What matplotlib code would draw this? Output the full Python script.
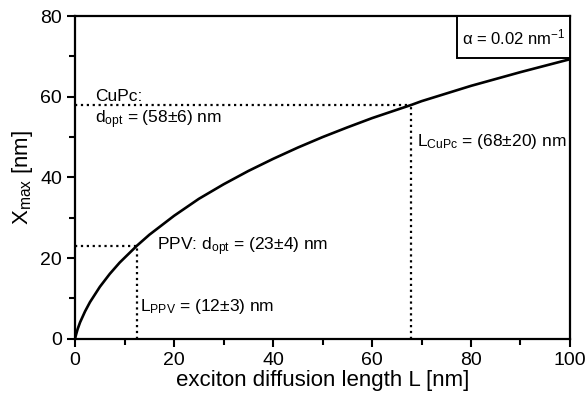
import matplotlib.pyplot as plt
from matplotlib.patches import Rectangle
from matplotlib.ticker import MultipleLocator

plt.rcParams['font.family'] = ['Liberation Sans', 'DejaVu Sans']
plt.rcParams['mathtext.fontset'] = 'custom'
plt.rcParams['mathtext.rm'] = 'Liberation Sans'
plt.rcParams['mathtext.it'] = 'Liberation Sans'

# curve
L = [0, 0.05, 0.2, 0.5, 1, 2, 3, 5, 7, 9, 10, 12.5, 15, 20, 25, 30, 35,
     40, 45, 50, 55, 60, 68, 70, 80, 90, 100]
x_max = [0, 0.4, 1.1, 2.4, 4.1, 6.8, 9.1, 12.9, 16.1, 18.9, 20.1, 23.1, 25.8,
         30.5, 34.7, 38.3, 41.6, 44.6, 47.4, 50.0, 52.4, 54.7, 58.0, 58.9,
         62.7, 66.1, 69.3]

# optimum points
ppv = (12.5, 23)
cupc = (67.9, 58)

fig = plt.figure(figsize=(5.87, 4.01), dpi=100)
ax = fig.add_axes([0.128, 0.155, 0.843, 0.805])

ax.plot(L, x_max, color='black', linewidth=1.9)

for px, py in [ppv, cupc]:
    ax.plot([0, px], [py, py], color='black', linestyle=':', linewidth=1.6)
    ax.plot([px, px], [0, py], color='black', linestyle=':', linewidth=1.6)

ax.text(4, 60, 'CuPc:', fontsize=12.5, va='center')
ax.text(4, 54.3, r'd$_{\mathrm{opt}}$ = (58±6) nm', fontsize=12.5, va='center')
ax.text(69, 49, r'L$_{\mathrm{CuPc}}$ = (68±20) nm', fontsize=12.5, va='center')
ax.text(16.5, 22.8, r'PPV: d$_{\mathrm{opt}}$ = (23±4) nm', fontsize=12.5, va='center')
ax.text(13.2, 8, r'L$_{\mathrm{PPV}}$ = (12±3) nm', fontsize=12.5, va='center')

# alpha box in the top right corner
ax.add_patch(Rectangle((0.772, 0.87), 0.228, 0.13, transform=ax.transAxes,
                       facecolor='white', edgecolor='black', linewidth=1.4, zorder=3))
ax.text(0.886, 0.935, r'α = 0.02 nm$^{\mathregular{-1}}$', transform=ax.transAxes,
        fontsize=12, ha='center', va='center', zorder=4)

ax.set_xlim(0, 100)
ax.set_ylim(0, 80)
ax.xaxis.set_major_locator(MultipleLocator(20))
ax.xaxis.set_minor_locator(MultipleLocator(10))
ax.yaxis.set_major_locator(MultipleLocator(20))
ax.yaxis.set_minor_locator(MultipleLocator(10))
ax.tick_params(which='both', direction='out', width=1.5, labelsize=14)
ax.tick_params(which='major', length=6)
ax.tick_params(which='minor', length=4)
for s in ax.spines.values():
    s.set_linewidth(1.6)

ax.set_xlabel('exciton diffusion length L [nm]', fontsize=16, labelpad=1)
ax.set_ylabel(r'X$_{\mathrm{max}}$ [nm]', fontsize=16, labelpad=4)

fig.savefig('out.png', dpi=100)
